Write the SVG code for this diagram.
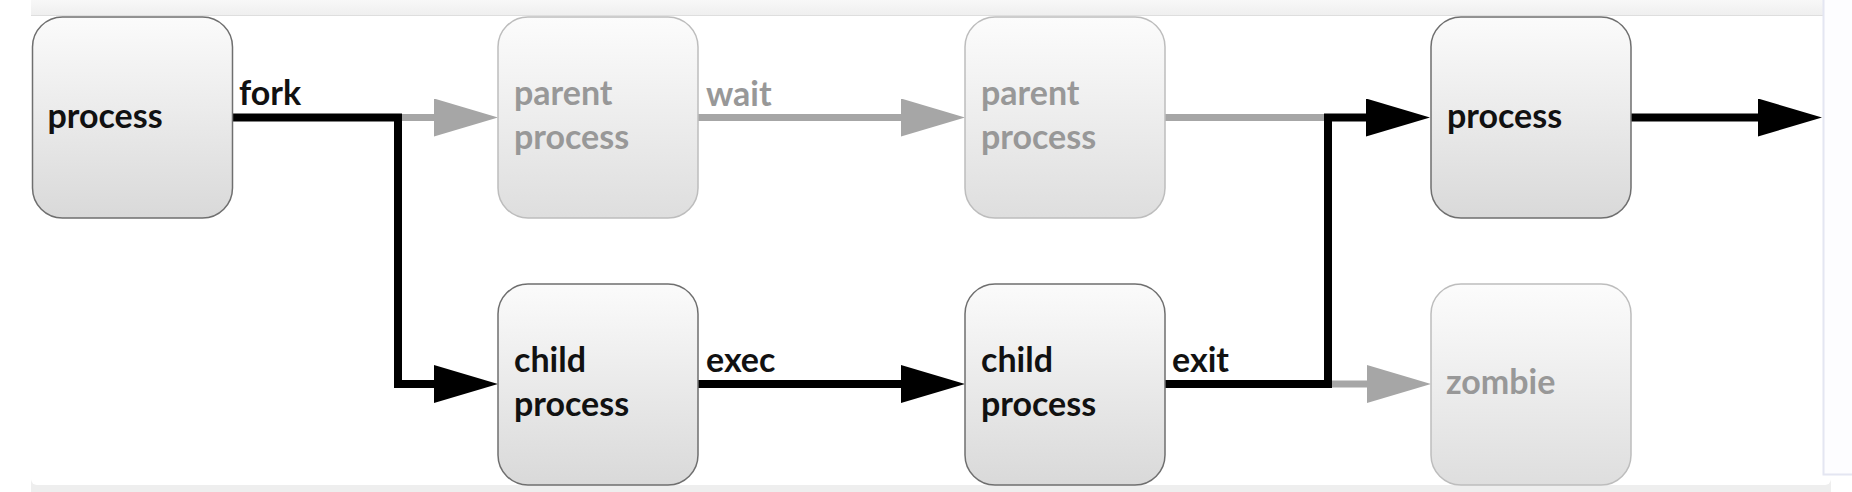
<svg xmlns="http://www.w3.org/2000/svg" width="1852" height="492" viewBox="0 0 1852 492">
  <defs>
    <linearGradient id="boxGrad" x1="0" y1="0" x2="0" y2="1">
      <stop offset="0" stop-color="#fbfbfb"/>
      <stop offset="1" stop-color="#d9d9d9"/>
    </linearGradient>
    <linearGradient id="boxGradFaded" x1="0" y1="0" x2="0" y2="1">
      <stop offset="0" stop-color="#fcfcfc"/>
      <stop offset="1" stop-color="#dedede"/>
    </linearGradient>
    <linearGradient id="bandGrad" x1="0" y1="0" x2="0" y2="1">
      <stop offset="0" stop-color="#f8f8f8"/>
      <stop offset="1" stop-color="#efefef"/>
    </linearGradient>
    <marker id="arrowBlack" markerUnits="userSpaceOnUse" viewBox="0 0 64 38" markerWidth="64" markerHeight="38" refX="0" refY="19" orient="auto">
      <path d="M0,0 L64,19 L0,38 Z" fill="#000000"/>
    </marker>
    <marker id="arrowGrey" markerUnits="userSpaceOnUse" viewBox="0 0 64 38" markerWidth="64" markerHeight="38" refX="0" refY="19" orient="auto">
      <path d="M0,0 L64,19 L0,38 Z" fill="#a6a6a6"/>
    </marker>
  </defs>
  <style>
    .box { fill: url(#boxGrad); stroke: #6f6f6f; stroke-width: 1.5; }
    .box.faded { fill: url(#boxGradFaded); stroke: #bdbdbd; }
    .lbl { font-family: Lato, "Open Sans", "Liberation Sans", sans-serif; font-weight: bold; font-size: 34px; fill: #111111; }
    .lbl.faded { fill: #989898; }
    .blk { fill: none; stroke: #000000; stroke-width: 8; stroke-linejoin: miter; stroke-linecap: butt; }
    .gry { fill: none; stroke: #a6a6a6; stroke-width: 7; stroke-linejoin: miter; stroke-linecap: butt; }
  </style>

  <!-- page / screenshot frame -->
  <rect x="0" y="0" width="1852" height="492" fill="#ffffff"/>
  <rect x="31" y="476" width="1800" height="16" fill="#eeeeee"/>
  <rect x="31" y="0" width="1800" height="485" rx="6" ry="6" fill="#ffffff"/>
  <rect x="31" y="0" width="1792" height="15" fill="url(#bandGrad)"/>
  <line x1="31" y1="15.5" x2="1823" y2="15.5" stroke="#dedede" stroke-width="1"/>
  <rect x="1823" y="0" width="29" height="474" fill="#fdfdff"/>
  <path d="M1823.5,0 V474.5 H1852" fill="none" stroke="#e4e6f2" stroke-width="2"/>

  <!-- connectors -->
  <g id="connectors">
    <path class="gry" d="M402,117.5 H434" marker-end="url(#arrowGrey)"/>
    <path class="blk" d="M232,117.5 H398 V384 H434" marker-end="url(#arrowBlack)"/>
    <text class="lbl" x="239" y="105">fork</text>
    <path class="gry" d="M698,117.5 H901" marker-end="url(#arrowGrey)"/>
    <text class="lbl faded" x="706" y="106">wait</text>
    <path class="blk" d="M698,384 H901" marker-end="url(#arrowBlack)"/>
    <text class="lbl" x="706" y="372">exec</text>
    <path class="gry" d="M1165,117.5 H1328"/>
    <path class="gry" d="M1332,384 H1367" marker-end="url(#arrowGrey)"/>
    <path class="blk" d="M1164,384 H1328 V117.5 H1366" marker-end="url(#arrowBlack)"/>
    <text class="lbl" x="1172" y="372">exit</text>
    <path class="blk" d="M1631,117.5 H1758" marker-end="url(#arrowBlack)"/>
  </g>

  <!-- nodes -->
  <g id="node-process-start">
    <rect class="box" x="32.5" y="17" width="200" height="201" rx="30" ry="30"/>
    <text class="lbl" x="47.5" y="128">process</text>
  </g>
  <g id="node-parent-1">
    <rect class="box faded" x="498" y="17" width="200" height="201" rx="30" ry="30"/>
    <text class="lbl faded" x="514"><tspan x="514" y="105">parent</tspan><tspan x="514" y="149">process</tspan></text>
  </g>
  <g id="node-parent-2">
    <rect class="box faded" x="965" y="17" width="200" height="201" rx="30" ry="30"/>
    <text class="lbl faded" x="981"><tspan x="981" y="105">parent</tspan><tspan x="981" y="149">process</tspan></text>
  </g>
  <g id="node-process-end">
    <rect class="box" x="1431" y="17" width="200" height="201" rx="30" ry="30"/>
    <text class="lbl" x="1447" y="128">process</text>
  </g>
  <g id="node-child-1">
    <rect class="box" x="498" y="284" width="200" height="201" rx="30" ry="30"/>
    <text class="lbl" x="514"><tspan x="514" y="372">child</tspan><tspan x="514" y="416">process</tspan></text>
  </g>
  <g id="node-child-2">
    <rect class="box" x="965" y="284" width="200" height="201" rx="30" ry="30"/>
    <text class="lbl" x="981"><tspan x="981" y="372">child</tspan><tspan x="981" y="416">process</tspan></text>
  </g>
  <g id="node-zombie">
    <rect class="box faded" x="1431" y="284" width="200" height="201" rx="30" ry="30"/>
    <text class="lbl faded" x="1446" y="394">zombie</text>
  </g>
</svg>
